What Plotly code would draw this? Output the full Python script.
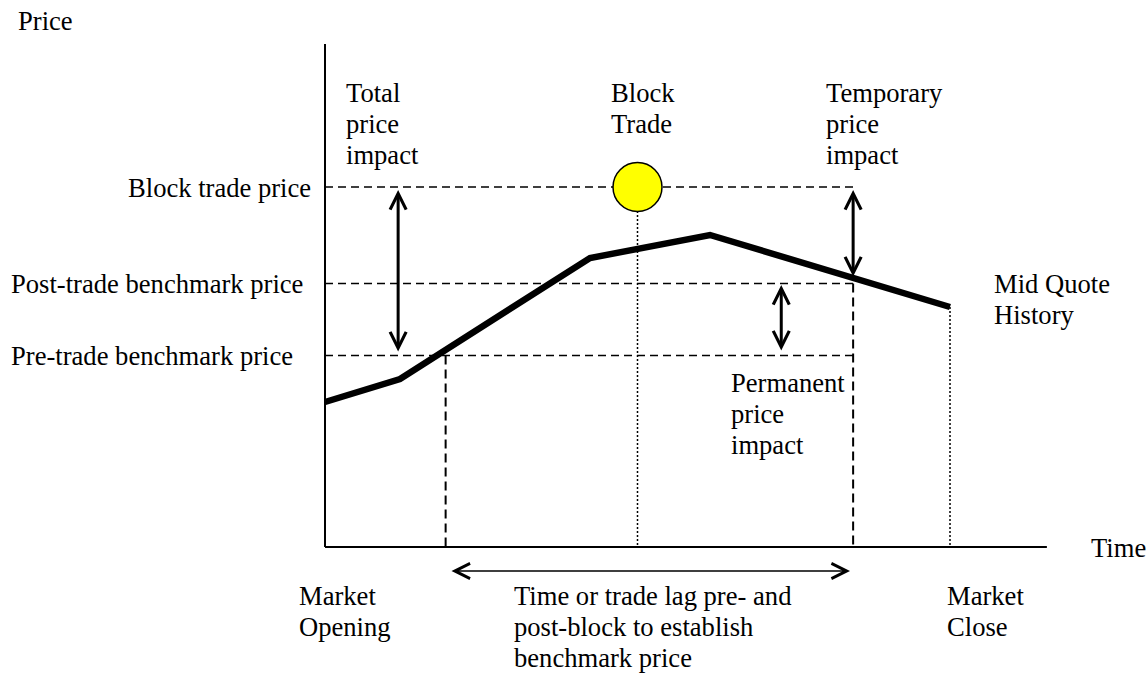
import plotly.graph_objects as go

W, H = 1148, 675
# scale: pixels per unit of time / price (diagram units)
PX_T, PX_P = 6.25, 5.0
X0, Y0 = 325, 547  # origin (market opening, price 0) in pixels

# ---------------- data (diagram units) ----------------
mid_time = [0, 12, 42.4, 61.6, 100]
mid_price = [29, 33.6, 57.8, 62.4, 48]

block_time = 50.0
block_price = 72.0
post_price = 52.7
pre_price = 38.3
pre_time = 19.3       # pre-trade benchmark time
post_time = 84.5      # post-trade benchmark time
close_time = 100.0
close_price = 48.0
axis_time_max = 115.5
axis_price_max = 100.6

total_arrow = dict(t=11.7, p_top=71.4, p_bot=38.8)
temp_arrow = dict(t=84.5, p_top=71.4, p_bot=53.8)
perm_arrow = dict(t=73.0, p_top=52.4, p_bot=39.0)
lag_arrow = dict(p=-4.8, t_left=20.0, t_right=84.0)

FONT = dict(family="Liberation Serif, Times New Roman, serif", size=26.6, color="black")

fig = go.Figure()

def line(xs, ys, width, dash="solid", color="black"):
    fig.add_trace(go.Scatter(x=xs, y=ys, mode="lines", hoverinfo="skip",
                             line=dict(color=color, width=width, dash=dash),
                             showlegend=False))

HD = "8px,5px"
VD = "9px,5px"
DOT = "2px,2px"
# horizontal dashed levels
line([0, post_time], [block_price, block_price], 1.5, HD)
line([0, post_time], [post_price, post_price], 1.5, HD)
line([0, post_time], [pre_price, pre_price], 1.5, HD)
# vertical dashed / dotted
line([pre_time, pre_time], [pre_price, 0], 2, VD)
line([post_time, post_time], [post_price, 0], 2, VD)
line([block_time, block_time], [block_price, 0], 1.5, DOT)
line([close_time, close_time], [close_price, 0], 1.5, DOT)
# axes
line([0, 0], [axis_price_max, 0], 2)
line([0, axis_time_max], [0, 0], 2)
# mid quote history
line(mid_time, mid_price, 6.5)
# block trade marker
fig.add_trace(go.Scatter(x=[block_time], y=[block_price], mode="markers", hoverinfo="skip",
                         marker=dict(size=49, color="#FFFF00", line=dict(color="black", width=1.5)),
                         showlegend=False))

def darrow(x, y, ax, ay, width, size):
    fig.add_annotation(x=x, y=y, ax=ax, ay=ay, xref="x", yref="y", axref="x", ayref="y",
                       text="", showarrow=True, arrowside="end+start",
                       arrowhead=5, startarrowhead=5, arrowwidth=width,
                       arrowsize=size, startarrowsize=size, arrowcolor="black")

darrow(total_arrow["t"], total_arrow["p_top"], total_arrow["t"], total_arrow["p_bot"], 3, 1.05)
darrow(temp_arrow["t"], temp_arrow["p_top"], temp_arrow["t"], temp_arrow["p_bot"], 3, 1.05)
darrow(perm_arrow["t"], perm_arrow["p_top"], perm_arrow["t"], perm_arrow["p_bot"], 3, 1.05)
darrow(lag_arrow["t_right"], lag_arrow["p"], lag_arrow["t_left"], lag_arrow["p"], 1.5, 2)

def label(lines, x_px, base_px, anchor="left", step=31):
    for i, s in enumerate(lines):
        cy = base_px + i * step - 9
        fig.add_annotation(text=s, xref="paper", yref="paper", x=x_px / W, y=1 - cy / H,
                           xanchor=anchor, yanchor="middle", showarrow=False, font=FONT)

label(["Price"], 16, 30)
label(["Total", "price", "impact"], 344, 102)
label(["Block", "Trade"], 609, 102)
label(["Temporary", "price", "impact"], 824, 102)
label(["Mid Quote", "History"], 992, 293)
label(["Block trade price"], 313, 197, anchor="right")
label(["Post-trade benchmark price"], 9, 293)
label(["Pre-trade benchmark price"], 9, 365)
label(["Permanent", "price", "impact"], 729, 392)
label(["Time"], 1089, 557)
label(["Market", "Opening"], 297, 605)
label(["Time or trade lag pre- and", "post-block to establish", "benchmark price"], 512, 605)
label(["Market", "Close"], 945, 605)

fig.update_layout(
    width=W, height=H, margin=dict(l=0, r=0, t=0, b=0),
    paper_bgcolor="white", plot_bgcolor="white",
    xaxis=dict(range=[-X0 / PX_T, (W - X0) / PX_T], visible=False, fixedrange=True),
    yaxis=dict(range=[-(H - Y0) / PX_P, Y0 / PX_P], visible=False, fixedrange=True),
    showlegend=False,
)

fig.write_html("out.html", config={"displayModeBar": False},
               post_script="document.body.style.margin='0';document.body.style.overflow='hidden';")
